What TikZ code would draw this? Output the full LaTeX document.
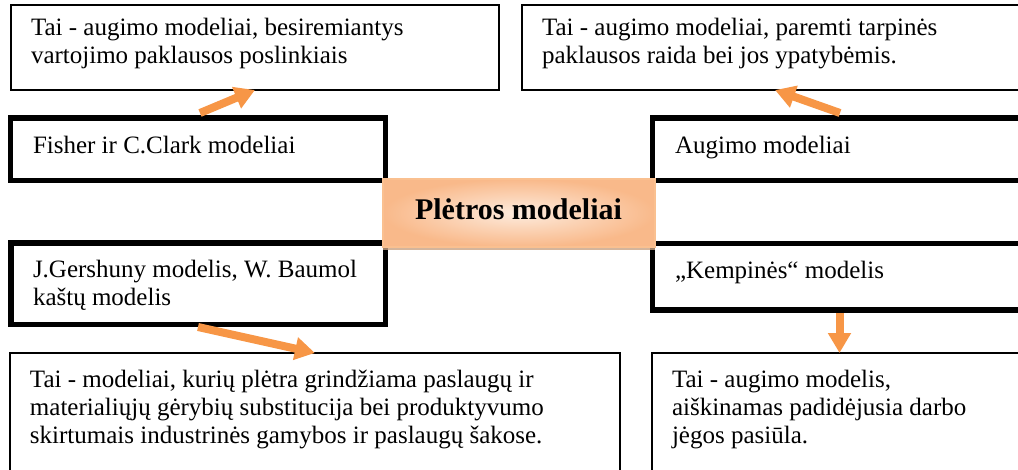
\documentclass[tikz,border=0pt]{standalone}
\usepackage{fontspec}
\setmainfont{Liberation Serif}
\usetikzlibrary{arrows.meta,calc,shadows}
\definecolor{arrorange}{HTML}{F79646}
\definecolor{boxedge}{HTML}{FAC090}
\definecolor{shadeout}{HTML}{F9B98A}
\definecolor{shadein}{HTML}{FDEBDD}
\definecolor{shadowc}{HTML}{C9A283}
\tikzset{
  thinbox/.style={draw=black, line width=1.5pt, fill=white, inner sep=0pt, outer sep=0pt, anchor=north west},
  thickbox/.style={draw=black, line width=5.5pt, fill=white, inner sep=0pt, outer sep=0pt, anchor=north west},
  txt/.style={anchor=north west, inner sep=0pt, outer sep=0pt, align=left, font=\fontsize{25}{28}\selectfont},
  orangearrow/.style={draw=arrorange, line width=8pt, -{Triangle[width=22pt,length=20pt]}},
  titlebox/.style={draw=boxedge, line width=1.5pt, inner color=shadein, outer color=shadeout,
    inner sep=0pt, outer sep=0pt, anchor=north west,
    drop shadow={shadow xshift=0pt, shadow yshift=-3pt, fill=shadowc, opacity=0.8}},
}
\begin{document}
\begin{tikzpicture}[x=1pt,y=-1pt]
\useasboundingbox (0,0) rectangle (1018,469);
\clip (0,0) rectangle (1018,469);
% thin boxes
\node[thinbox, minimum width=488pt, minimum height=85pt] (tl) at (11,5) {};
\node[thinbox, minimum width=500pt, minimum height=85pt] (tr) at (522,5) {};
\node[thinbox, minimum width=610pt, minimum height=140pt] (bl) at (10,353) {};
\node[thinbox, minimum width=400pt, minimum height=140pt] (br) at (652,353) {};
% thick boxes
\node[thickbox, minimum width=375pt, minimum height=62.5pt] (fisher) at (10.5,118) {};
\node[thickbox, minimum width=400pt, minimum height=62.5pt] (augimo) at (652.5,118) {};
\node[thickbox, minimum width=374.5pt, minimum height=81.5pt] (gersh) at (11,243) {};
\node[thickbox, minimum width=400pt, minimum height=66.5pt] (kemp) at (652.5,243.5) {};
% centre box
\node[titlebox, minimum width=272pt, minimum height=68pt] (center) at (383,179) {};
\node[anchor=base, inner sep=0pt, font=\fontsize{30}{36}\selectfont\bfseries] (title) at (518.5,219) {Plėtros modeliai};
% texts
\node[txt] (tltext) at (31,15.4) {\strut Tai - augimo modeliai, besiremiantys\\vartojimo paklausos poslinkiais};
\node[txt] (trtext) at (542,15.4) {\strut Tai - augimo modeliai, paremti tarpinės\\paklausos raida bei jos ypatybėmis.};
\node[txt] (fishertext) at (33,133.4) {\strut Fisher ir C.Clark modeliai};
\node[txt] (augimotext) at (675,133.4) {\strut Augimo modeliai};
\node[txt] (gershtext) at (33,257.4) {\strut J.Gershuny modelis, W. Baumol\\kaštų modelis};
\node[txt] (kemptext) at (675,258.4) {\strut „Kempinės“ modelis};
\node[txt] (bltext) at (30,367.4) {\strut Tai - modeliai, kurių plėtra grindžiama paslaugų ir\\materialiųjų gėrybių substitucija bei produktyvumo\\skirtumais industrinės gamybos ir paslaugų šakose.};
\node[txt] (brtext) at (672,367.4) {\strut Tai - augimo modelis,\\aiškinamas padidėjusia darbo\\jėgos pasiūla.};
% arrows
\draw[orangearrow] ($(fisher.north west)+(189.5,-5)$) -- ($(tl.south west)+(244,0)$);
\draw[orangearrow] ($(augimo.north west)+(187.5,-5)$) -- ($(tr.south west)+(253,0)$);
\draw[orangearrow] ($(gersh.south west)+(187,2.5)$) -- ($(bl.north west)+(305,0)$);
\coordinate (k1) at ($(kemp.south west)+(187,3)$);
\draw[orangearrow] (k1) -- (k1 |- br.north);
\end{tikzpicture}
\end{document}
